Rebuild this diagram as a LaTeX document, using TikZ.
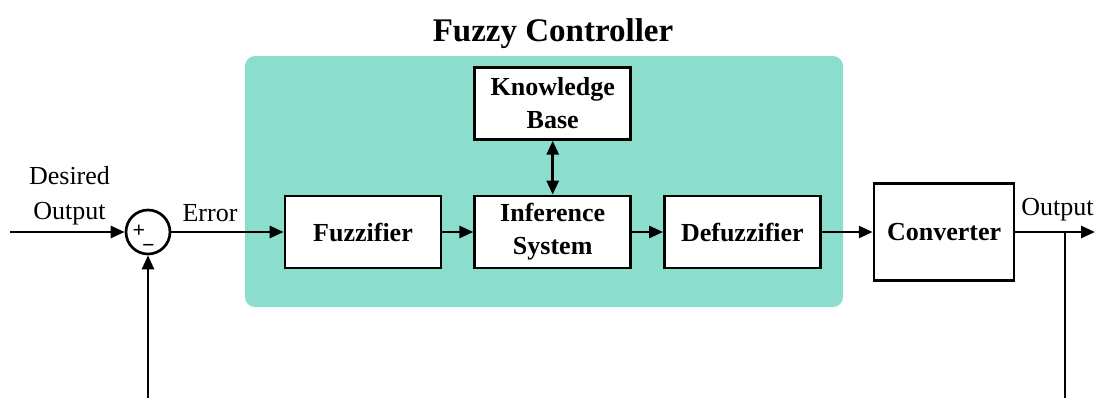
\documentclass[tikz,border=0pt]{standalone}
\usepackage{fontspec}
\setmainfont{Liberation Serif}
\usetikzlibrary{positioning,arrows.meta}
\definecolor{fuzzyteal}{RGB}{140,222,204}

\begin{document}
\begin{tikzpicture}[node distance={15.5pt}, line width=1.35pt, >={Triangle[length=7pt,width=6pt]},
        block/.style = {draw, fill=white, minimum width=78pt, minimum height=36pt, inner sep=2pt, align=center, font=\fontsize{13}{16.5}\selectfont\bfseries},
        sumnode/.style = {draw, circle, minimum size=22pt, inner sep=0pt},
        sign/.style = {inner sep=0pt, font=\fontsize{11}{11}\selectfont\bfseries},
        lbl/.style = {align=center, inner sep=0pt, font=\fontsize{13}{17.5}\selectfont}]
        \useasboundingbox (0,0) rectangle (549pt,-199pt);
        \fill[fuzzyteal, rounded corners=5pt] (122.5pt,-28pt) rectangle (421.5pt,-153.5pt);
        \node[font=\fontsize{16.5}{18}\selectfont\bfseries, inner sep=0pt] (title) at (276.5pt,-17pt) {Fuzzy Controller};
        \node[sumnode] (sum) at (74pt,-116pt) {};
        \node[sign] (plus) at ([xshift=-4.5pt,yshift=0.5pt]sum.center) {+};
        \node[sign] (minus) at ([xshift=0.25pt,yshift=-8pt]sum.center) {−};
        \node[block] (fuzz) at (181.5pt,-116pt) {Fuzzifier};
        \node[block] (infer) [right=of fuzz] {Inference\\System};
        \node[block] (defuzz) [right=of infer] {Defuzzifier};
        \node[block] (kb) [above=27pt of infer] {Knowledge\\Base};
        \node[block, minimum width=70pt, minimum height=48.5pt] (conv) [right=25.5pt of defuzz] {Converter};
        \node[lbl] (desired) at (34.75pt,-98pt) {Desired\\Output};
        \node[lbl] (err) at (105pt,-106.5pt) {Error};
        \node[lbl] (outlbl) at (528.75pt,-105pt) {Output};
        \coordinate (in) at (5pt,-116pt);
        \coordinate (tap) at (532.5pt,-116pt);
        \coordinate (out) at (547.5pt,-116pt);
        \coordinate (fbR) at (532.5pt,-199pt);
        \coordinate (fbL) at (74pt,-199pt);
        \draw[->] (in) -- (sum);
        \draw[->] (sum) -- (fuzz);
        \draw[->] (fuzz) -- (infer);
        \draw[->] (infer) -- (defuzz);
        \draw[<->] (kb) -- (infer);
        \draw[->] (defuzz) -- (conv);
        \draw[->] (conv) -- (out);
        \draw (tap) -- (fbR);
        \draw[->] (fbL) -- (sum);
    \end{tikzpicture}
\end{document}
